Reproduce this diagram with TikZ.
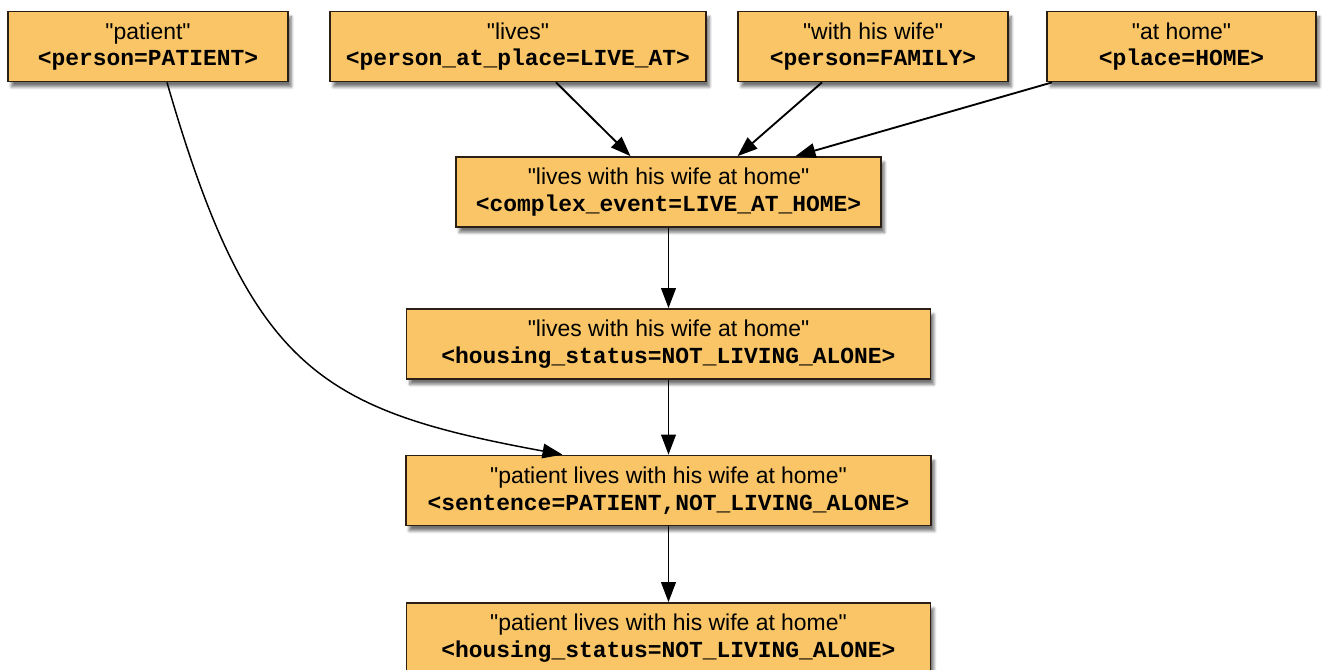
\documentclass[tikz,border=0pt]{standalone}
\usepackage{fontspec}
\setmainfont{Liberation Sans}
\newfontfamily\labelfont{Liberation Sans}
\newfontfamily\codefont{Liberation Mono}
\usetikzlibrary{arrows.meta,shadows.blur}

\definecolor{tagfill}{HTML}{F9C566}
\definecolor{tagline}{HTML}{2B1E12}

\tikzset{every picture/.style={line width=0.75pt}}
\tikzset{
  tagbox/.style={draw=tagline, fill=tagfill, line width=1.3pt, minimum height=52.5pt,
    inner sep=0.75pt, align=center, font=\labelfont\fontsize{17.2}{20}\selectfont,
    blur shadow={shadow xshift=2.5pt, shadow yshift=-4pt, shadow blur steps=8, shadow opacity=55}},
  link/.style={draw=black, line width=1.4pt, -{Triangle[length=15pt,width=11pt]}}
}
\newcommand{\tagcode}[1]{{\codefont\bfseries #1}}

\begin{document}
\begin{tikzpicture}[x=0.75pt,y=0.75pt,yscale=-1,xscale=1]
\useasboundingbox (0,0) rectangle (1322,670);

% top row
\node [tagbox, minimum width=210pt] (patient) at (148,46.5) {"patient"\\\tagcode{<person=PATIENT>}};
\node [tagbox, minimum width=282pt] (lives) at (518,46.5) {"lives"\\\tagcode{<person\_at\_place=LIVE\_AT>}};
\node [tagbox, minimum width=202.5pt] (wife) at (873,46.5) {"with his wife"\\\tagcode{<person=FAMILY>}};
\node [tagbox, minimum width=201.75pt] (home) at (1181.5,46.5) {"at home"\\\tagcode{<place=HOME>}};

% combined event
\node [tagbox, minimum width=318.75pt] (event) at (668.5,192) {"lives with his wife at home"\\\tagcode{<complex\_event=LIVE\_AT\_HOME>}};
\node [tagbox, minimum width=393pt] (housing) at (668.5,344) {"lives with his wife at home"\\\tagcode{<housing\_status=NOT\_LIVING\_ALONE>}};
\node [tagbox, minimum width=394pt] (sentence) at (668.5,490.5) {"patient lives with his wife at home"\\\tagcode{<sentence=PATIENT,NOT\_LIVING\_ALONE>}};
\node [tagbox, minimum width=393pt] (result) at (668.5,638) {"patient lives with his wife at home"\\\tagcode{<housing\_status=NOT\_LIVING\_ALONE>}};

% arrows
\draw [link] ([xshift=28.5pt]lives.south) -- ([xshift=-28.5pt]event.north);
\draw [link] ([xshift=-38.25pt]wife.south) -- ([xshift=51.75pt]event.north);
\draw [link] ([xshift=-97pt]home.south) -- ([xshift=95.25pt]event.north);
\draw [link] (event) -- (housing);
\draw [link] (housing) -- (sentence);
\draw [link] (sentence) -- (result);
\draw [link, line width=1.1pt] ([xshift=14.25pt]patient.south) .. controls (250,370) and (320,410) .. ([xshift=-79.5pt]sentence.north);

\end{tikzpicture}
\end{document}
